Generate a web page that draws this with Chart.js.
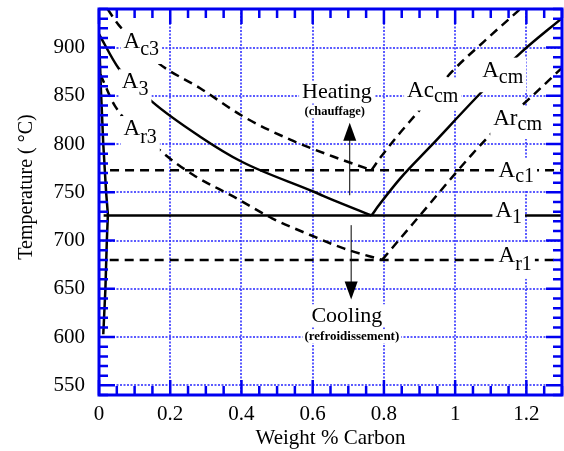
<!DOCTYPE html>
<html><head><meta charset="utf-8">
<script src="https://cdn.jsdelivr.net/npm/chart.js@4.4.0/dist/chart.umd.min.js"></script>
<style>html,body{margin:0;padding:0;background:#fff}#wrap{width:564px;height:451px;position:relative}</style>
</head><body><div id="wrap"><canvas id="c" width="564" height="451"></canvas></div>
<script>
// ---- axis ticks / labels ----
const xTickValues = [0, 0.2, 0.4, 0.6, 0.8, 1.0, 1.2];
const xTickLabels = ['0', '0.2', '0.4', '0.6', '0.8', '1', '1.2'];
const yTickValues = [550, 600, 650, 700, 750, 800, 850, 900];
const yTickLabels = ['550', '600', '650', '700', '750', '800', '850', '900'];

// ---- series values (wt% C , temperature °C) ----
const alphaC = [0, 0.005, 0.012, 0.020, 0.025, 0.022, 0.018, 0.012];
const alphaT = [914, 860, 800, 750, 727, 700, 650, 603];
const a3C = [0, 0.055, 0.149, 0.284, 0.401, 0.603, 0.668, 0.765];
const a3T = [914, 878.6, 844, 807.7, 781.7, 750.6, 740.3, 726];
const ac3C = [0.024, 0.055, 0.167, 0.284, 0.406, 0.537, 0.659, 0.765];
const ac3T = [940, 923.5, 883.8, 857.9, 828.4, 804.6, 786.9, 773];
const ar3C = [0.004, 0.046, 0.181, 0.265, 0.378, 0.486, 0.593, 0.687, 0.795];
const ar3T = [872, 838.8, 790.5, 768, 745.5, 723.1, 705.8, 691.9, 680];
const acmC = [0.765, 0.790, 0.846, 0.930, 1.071, 1.183, 1.3];
const acmT = [726, 738.6, 764.5, 797.3, 852.7, 894.2, 930.5];
const accmC = [0.765, 0.790, 0.846, 0.888, 0.991, 1.080, 1.183];
const accmT = [773, 786, 812, 830, 875, 906, 940];
const arcmC = [0.795, 0.880, 1.094, 1.211, 1.3];
const arcmT = [680, 717, 808, 848, 879];
const a1C = [0.013, 1.3];   const a1T = [726, 726];
const ac1C = [0.031, 1.3];  const ac1T = [773, 773];
const ar1C = [0.030, 1.3];  const ar1T = [680, 680];
const heatC = [0.704, 0.704]; const heatT = [747, 822];
const coolC = [0.708, 0.708]; const coolT = [716, 639];

// ---- annotation texts ----
const phaseLabels = [
  {main: 'A',  sub: 'c3', c: 0.069, t: 899.3, dy: 6.7},
  {main: 'A',  sub: '3',  c: 0.064, t: 857.9, dy: 6.7},
  {main: 'A',  sub: 'r3', c: 0.069, t: 809.4, dy: 8.3},
  {main: 'Ac', sub: 'cm', c: 0.865, t: 849.2, dy: 5},
  {main: 'A',  sub: 'cm', c: 1.076, t: 869.9, dy: 6.6},
  {main: 'Ar', sub: 'cm', c: 1.107, t: 819.8, dy: 5},
  {main: 'A',  sub: 'c1', c: 1.122, t: 766.2, dy: 5},
  {main: 'A',  sub: '1',  c: 1.113, t: 724.7, dy: 6},
  {main: 'A',  sub: 'r1', c: 1.122, t: 678.0, dy: 8}
];
const notes = [
  {text: 'Heating', c: 0.668, t: 847.5, size: 22, bold: false},
  {text: '(chauffage)', c: 0.662, t: 830.5, size: 12.5, bold: true},
  {text: 'Cooling', c: 0.696, t: 615.8, size: 22, bold: false},
  {text: '(refroidissement)', c: 0.710, t: 597.5, size: 13, bold: true}
];

const SERIF = '"Liberation Serif", "Times New Roman", serif';
const frameBlue = '#0000f0';
const gridBlue = 'rgba(50,50,255,0.8)';
const pts = (C, T) => C.map((c, i) => ({x: c, y: T[i]}));
const near = (v, list) => list.findIndex(u => Math.abs(u - v) < 1e-6);
const isMajorX = v => Math.abs(v / 0.2 - Math.round(v / 0.2)) < 1e-6;
const isMajorY = v => Math.abs(v / 50 - Math.round(v / 50)) < 1e-6;

function line(C, T, dash, opts) {
  return Object.assign({
    data: pts(C, T), showLine: true, borderColor: '#000', borderWidth: 2.5,
    borderDash: dash || [], pointRadius: 0, fill: false, tension: 0,
    cubicInterpolationMode: 'monotone'
  }, opts || {});
}
const DASH = [9, 6];

const decor = {
  id: 'decor',
  afterDatasetsDraw(chart) {
    const {ctx, chartArea: a, scales: {x, y}} = chart;
    ctx.save();
    // arrows
    const arrow = (C, T) => {
      const px = x.getPixelForValue(C[0]);
      const y0 = y.getPixelForValue(T[0]), y1 = y.getPixelForValue(T[1]);
      const dir = y1 < y0 ? 1 : -1;
      ctx.strokeStyle = '#000'; ctx.lineWidth = 1; ctx.setLineDash([]);
      ctx.beginPath(); ctx.moveTo(px, y0); ctx.lineTo(px, y1 + dir * 15); ctx.stroke();
      ctx.fillStyle = '#000';
      ctx.beginPath(); ctx.moveTo(px, y1); ctx.lineTo(px - 6.5, y1 + dir * 18);
      ctx.lineTo(px + 6.5, y1 + dir * 18); ctx.closePath(); ctx.fill();
    };
    arrow(heatC, heatT); arrow(coolC, coolT);
    // notes
    notes.forEach(n => {
      ctx.font = (n.bold ? 'bold ' : '') + n.size + 'px ' + SERIF;
      const w = ctx.measureText(n.text).width;
      const px = x.getPixelForValue(n.c), py = y.getPixelForValue(n.t);
      ctx.fillStyle = '#fff';
      if (n.bold) ctx.fillRect(px - w / 2 - 2, py - n.size * 0.8, w + 4, n.size * 1.1);
      else ctx.fillRect(px - w / 2 - 3, py - n.size * 0.8, w + 6, n.size * 1.0);
      ctx.fillStyle = '#000'; ctx.textAlign = 'center'; ctx.textBaseline = 'alphabetic';
      ctx.fillText(n.text, px, py);
    });
    // phase labels with white boxes
    phaseLabels.forEach(l => {
      const px = x.getPixelForValue(l.c), py = y.getPixelForValue(l.t);
      const mf = '23px ' + SERIF, sf = '20px ' + SERIF;
      ctx.font = mf; const mw = ctx.measureText(l.main).width;
      ctx.font = sf; const sw = ctx.measureText(l.sub).width;
      ctx.fillStyle = '#fff';
      ctx.fillRect(px - 3, py - 19, mw + sw + 6, 19 + l.dy + 9);
      ctx.fillStyle = '#000'; ctx.textAlign = 'left'; ctx.textBaseline = 'alphabetic';
      ctx.font = mf; ctx.fillText(l.main, px, py);
      ctx.font = sf; ctx.fillText(l.sub, px + mw, py + l.dy);
    });
    // ticks and frame
    ctx.strokeStyle = frameBlue; ctx.setLineDash([]);
    ctx.lineWidth = 2.5;
    x.ticks.forEach(t => {
      const px = x.getPixelForValue(t.value);
      const len = isMajorX(t.value) ? 15 : 9;
      ctx.beginPath();
      ctx.moveTo(px, a.bottom); ctx.lineTo(px, a.bottom - len);
      ctx.moveTo(px, a.top); ctx.lineTo(px, a.top + len);
      ctx.stroke();
    });
    y.ticks.forEach(t => {
      const py = y.getPixelForValue(t.value);
      const len = isMajorY(t.value) ? 16 : 9;
      ctx.beginPath();
      ctx.moveTo(a.left, py); ctx.lineTo(a.left + len, py);
      ctx.moveTo(a.right, py); ctx.lineTo(a.right - len, py);
      ctx.stroke();
    });
    ctx.lineWidth = 3;
    ctx.strokeRect(a.left, a.top, a.right - a.left, a.bottom - a.top);
    ctx.restore();
  }
};

Chart.defaults.font.family = SERIF;
Chart.defaults.color = '#000';

new Chart(document.getElementById('c'), {
  type: 'scatter',
  data: {
    datasets: [
      line(alphaC, alphaT, [], {tension: 0, cubicInterpolationMode: 'default'}),
      line(a3C, a3T),
      line(ac3C, ac3T, DASH),
      line(ar3C, ar3T, DASH),
      line(acmC, acmT),
      line(accmC, accmT, DASH),
      line(arcmC, arcmT, DASH),
      line(a1C, a1T),
      line(ac1C, ac1T, DASH),
      line(ar1C, ar1T, DASH)
    ]
  },
  options: {
    responsive: false,
    animation: false,
    events: [],
    layout: {padding: {top: 9, right: 2, left: 0, bottom: 0}},
    plugins: {legend: {display: false}, tooltip: {enabled: false}},
    scales: {
      x: {
        type: 'linear', min: 0, max: 1.3,
        ticks: {
          stepSize: 0.05, autoSkip: false, maxRotation: 0, minRotation: 0,
          padding: 7, font: {size: 21, family: SERIF}, color: '#000',
          callback: v => { const i = near(v, xTickValues); return i >= 0 ? xTickLabels[i] : ''; }
        },
        grid: {
          drawTicks: false, lineWidth: 2,
          color: c => (c.tick && isMajorX(c.tick.value) && c.tick.value > 0.01) ? gridBlue : 'rgba(0,0,0,0)'
        },
        border: {display: false, dash: [2, 1.5]},
        title: {display: true, text: 'Weight % Carbon', font: {size: 21, family: SERIF}, color: '#000', padding: {top: 0, bottom: 0}},
        afterFit: s => { s.height = 56; s.paddingLeft = 0; s.paddingRight = 0; }
      },
      y: {
        type: 'linear', min: 540, max: 940,
        ticks: {
          stepSize: 10, autoSkip: false, padding: 14,
          font: {size: 21, family: SERIF}, color: '#000',
          callback: v => { const i = near(v, yTickValues); return i >= 0 ? yTickLabels[i] : ''; }
        },
        grid: {
          drawTicks: false, lineWidth: 2,
          color: c => (c.tick && isMajorY(c.tick.value)) ? gridBlue : 'rgba(0,0,0,0)'
        },
        border: {display: false, dash: [2, 1.5]},
        title: {display: true, text: '      Temperature ( °C)', font: {size: 20, family: SERIF}, color: '#000', padding: {top: 15, bottom: 0}},
        afterFit: s => { s.width = 99; s.paddingTop = 0; s.paddingBottom = 0; }
      }
    }
  },
  plugins: [decor]
});
</script></body></html>
